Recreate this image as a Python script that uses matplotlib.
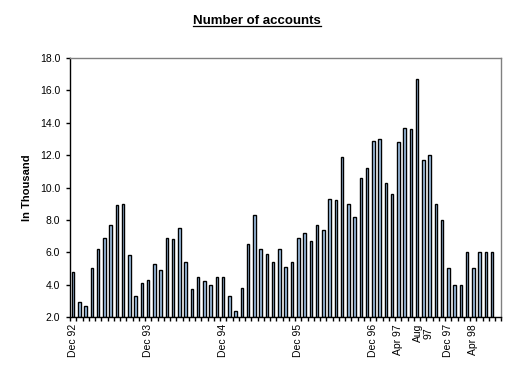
import matplotlib
matplotlib.use("Agg")
import matplotlib.pyplot as plt
import numpy as np

plt.rcParams['font.family'] = ['Liberation Sans', 'DejaVu Sans']

# Monthly values Dec 92 .. Jul 98 (thousand accounts); Aug 98 slot empty
values = [4.8, 2.9, 2.7, 5.0, 6.2, 6.9, 7.7, 8.9, 9.0, 5.8, 3.3, 4.1,
          4.3, 5.3, 4.9, 6.9, 6.8, 7.5, 5.4, 3.7, 4.5, 4.2, 4.0, 4.5,
          4.5, 3.3, 2.4, 3.8, 6.5, 8.3, 6.2, 5.9, 5.4, 6.2, 5.1, 5.4,
          6.9, 7.2, 6.7, 7.7, 7.4, 9.3, 9.2, 11.9, 9.0, 8.2, 10.6, 11.2,
          12.9, 13.0, 10.3, 9.6, 12.8, 13.7, 13.6, 16.7, 11.7, 12.0, 9.0, 8.0,
          5.0, 4.0, 4.0, 6.0, 5.0, 6.0, 6.0, 6.0]
n_categories = 69
label_positions = [0, 12, 24, 36, 48, 52, 56, 60, 64]
label_texts = ["Dec 92", "Dec 93", "Dec 94", "Dec 95", "Dec 96",
               "Apr 97", "Aug\n97", "Dec 97", "Apr 98"]
yticks = [2, 4, 6, 8, 10, 12, 14, 16, 18]

fig = plt.figure(figsize=(5.15, 3.77), dpi=100)
ax = fig.add_axes([70/515, 60/377, 431.5/515, 259/377])

x = np.arange(len(values))
ax.bar(x, np.array(values) - 2.0, bottom=2.0, width=0.4,
       color="#A6CAF0", edgecolor="black", linewidth=1.0)

ax.set_xlim(-0.5, n_categories - 0.5)
ax.set_ylim(2, 18)
ax.set_yticks(yticks)
ax.set_yticklabels([f"{v:.1f}" for v in yticks], fontsize=7.5)

ax.set_xticks(np.arange(n_categories + 1) - 0.5)
ax.set_xticklabels([])
ax.set_xticks(label_positions, minor=True)
ax.set_xticklabels(label_texts, minor=True, rotation=90, fontsize=7.5,
                   va='top', ha='center', linespacing=1.0,
                   multialignment='center')
ax.tick_params(axis='x', which='major', direction='out', length=3, width=1, color='black')
ax.tick_params(axis='x', which='minor', length=0, pad=5)
ax.tick_params(axis='y', direction='out', length=3, width=1, pad=4)

for s in ['left', 'bottom']:
    ax.spines[s].set_color('black')
    ax.spines[s].set_linewidth(1.0)
for s in ['top', 'right']:
    ax.spines[s].set_color('#808080')
    ax.spines[s].set_linewidth(1.0)

ax.set_ylabel("In Thousand", fontsize=8, fontweight='bold')
ax.yaxis.set_label_coords((32 - 70) / 431.5, 0.5)
fig.text(257/515, 1 - 21/377, "Number of accounts", ha='center', va='center',
         fontsize=9.5, fontweight='bold')
# underline for title
t = fig.texts[0]
fig.canvas.draw()
bb = t.get_window_extent()
fig.add_artist(plt.Line2D([bb.x0/fig.bbox.width, bb.x1/fig.bbox.width],
                          [(bb.y0 + 1)/fig.bbox.height]*2, color='black', lw=0.9,
                          transform=fig.transFigure))

fig.savefig("out.png", dpi=100)
